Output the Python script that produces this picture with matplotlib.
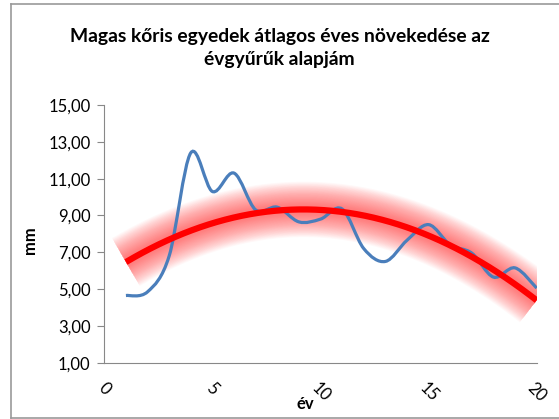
import numpy as np
import matplotlib
matplotlib.use("Agg")
import matplotlib.pyplot as plt
from matplotlib.path import Path
from matplotlib.patches import PathPatch
from matplotlib.lines import Line2D

# data
years = np.arange(1, 21)
growth = [4.65, 4.85, 6.8, 12.4, 10.3, 11.3, 9.3, 9.45, 8.65, 8.8,
          9.35, 7.2, 6.5, 7.65, 8.5, 7.4, 6.95, 5.65, 6.15, 5.05]
y_ticks = [1, 3, 5, 7, 9, 11, 13, 15]
x_ticks = [0, 5, 10, 15, 20]

title = "Magas kőris egyedek átlagos éves növekedése az\névgyűrűk alapjám"

plt.rcParams['font.family'] = ['Lato', 'DejaVu Sans']

fig = plt.figure(figsize=(5.59, 4.19), dpi=100)
ax = fig.add_axes([0.1866, 0.1344, 0.7735, 0.6150])

# smoothed line (Excel style: catmull-rom -> bezier)
x = np.asarray(years, float)
y = np.asarray(growth, float)
verts = [(x[0], y[0])]
codes = [Path.MOVETO]
for i in range(len(x) - 1):
    p0 = (x[i - 1], y[i - 1]) if i > 0 else (x[i], y[i])
    p1 = (x[i], y[i])
    p2 = (x[i + 1], y[i + 1])
    p3 = (x[i + 2], y[i + 2]) if i + 2 < len(x) else (x[i + 1], y[i + 1])
    c1 = (p1[0] + (p2[0] - p0[0]) / 6, p1[1] + (p2[1] - p0[1]) / 6)
    c2 = (p2[0] - (p3[0] - p1[0]) / 6, p2[1] - (p3[1] - p1[1]) / 6)
    verts += [c1, c2, p2]
    codes += [Path.CURVE4] * 3
ax.add_patch(PathPatch(Path(verts, codes), fill=False, edgecolor='#4a7ebb',
                       lw=2.3, zorder=2, capstyle='butt'))

# polynomial trendline with soft glow
coef = np.polyfit(x, y, 2)
xt = np.linspace(1, 20, 200)
yt = np.polyval(coef, xt)
for w in np.linspace(40, 6, 35):
    ax.plot(xt, yt, color='#ff3030', lw=w, alpha=0.022, solid_capstyle='butt',
            zorder=1)
ax.plot(xt, yt, color='#ff0000', lw=4.5, solid_capstyle='butt', zorder=3)

ax.set_xlim(0, 20)
ax.set_ylim(1, 15)
ax.set_yticks(y_ticks)
ax.set_yticklabels([f"{v:.2f}".replace('.', ',') for v in y_ticks], fontsize=12)
ax.set_xticks(x_ticks)
ax.set_xticklabels([str(v) for v in x_ticks], fontsize=12, rotation=-45,
                   ha='center', va='top')
ax.tick_params(axis='x', length=0, pad=12)
ax.tick_params(axis='y', length=5, color='#888888', pad=5)
for s in ['top', 'right']:
    ax.spines[s].set_visible(False)
for s in ['left', 'bottom']:
    ax.spines[s].set_color('#888888')

ax.set_xlabel('év', fontsize=12, fontweight='bold', va='center')
ax.xaxis.set_label_coords(0.464, -0.16)
ax.set_ylabel('mm', fontsize=12, fontweight='bold', va='center')
ax.yaxis.set_label_coords(-0.172, 0.476)

fig.text(0.5, 0.886, title, ha='center', va='center', fontsize=13.9,
         fontweight='bold', linespacing=1.45)

# outer frame
fig.add_artist(Line2D([11/559, 11/559], [0.003, 0.99], color='#999999', lw=1.2,
                      transform=fig.transFigure))
fig.add_artist(Line2D([11/559, 1], [0.99, 0.99], color='#999999', lw=1.2,
                      transform=fig.transFigure))
fig.add_artist(Line2D([11/559, 1], [0.003, 0.003], color='#999999', lw=1.2,
                      transform=fig.transFigure))

fig.savefig('out.png', dpi=100)
